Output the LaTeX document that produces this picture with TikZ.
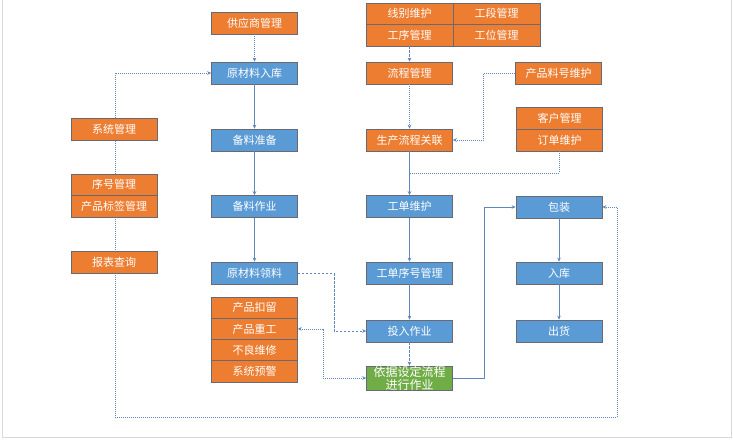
\documentclass[tikz,border=0pt]{standalone}
\usepackage{fontspec}
\newfontfamily\cjk{Noto Sans CJK SC}
\usetikzlibrary{arrows.meta,backgrounds}
\definecolor{orgf}{RGB}{237,125,49}
\definecolor{bluf}{RGB}{91,155,213}
\definecolor{grnf}{RGB}{112,173,71}
\definecolor{bordc}{RGB}{105,105,115}
\definecolor{linec}{RGB}{95,135,190}
\definecolor{framec}{RGB}{215,215,220}
\tikzset{
  box/.style={draw=bordc,line width=0.7pt,minimum width=86pt,minimum height=22pt,inner sep=0pt,
    text=white,font=\cjk\fontsize{11}{12}\selectfont},
  obox/.style={box,fill=orgf},
  bbox/.style={box,fill=bluf},
  gbox/.style={box,fill=grnf,align=center,font=\cjk\fontsize{12}{13}\selectfont},
  cellbox/.style={obox,minimum width=87pt,minimum height=21.5pt},
  stbox/.style={obox,minimum height=21.25pt},
  conn/.style={draw=linec,line width=0.6pt,-{Stealth[length=4pt,width=3.6pt]}},
  dotl/.style={dash pattern=on 1pt off 1pt},
  dashl/.style={dash pattern=on 2.5pt off 1.5pt},
}
\begin{document}
\begin{tikzpicture}[x=1pt,y=-1pt]
\useasboundingbox (0,0) rectangle (733,442);
\draw[framec,line width=0.8pt] (2,0) -- (2,437) -- (731.5,437) -- (731.5,0);
% left column
\node[obox] (sup) at (254.5,23) {供应商管理};
\node[bbox] (rk) at (254.5,73) {原材料入库};
\node[bbox] (bzb) at (254.5,140) {备料准备};
\node[bbox] (bzy) at (254.5,206.5) {备料作业};
\node[bbox] (ll) at (254.5,273) {原材料领料};
\node[stbox] (kl) at (254.5,307.6) {产品扣留};
\node[stbox] (cg) at (254.5,328.9) {产品重工};
\node[stbox] (bl) at (254.5,350.1) {不良维修};
\node[stbox] (yj) at (254.5,371.4) {系统预警};
% far left
\node[obox] (xt) at (114,129) {系统管理};
\node[obox,minimum height=21pt] (xh) at (114,184.5) {序号管理};
\node[obox,minimum height=22pt] (bq) at (114,206) {产品标签管理};
\node[obox] (bb) at (114,262.3) {报表查询};
% middle column
\node[cellbox] (xb) at (409.5,13.75) {线别维护};
\node[cellbox] (gdg) at (496.5,13.75) {工段管理};
\node[cellbox] (gxg) at (409.5,35.25) {工序管理};
\node[cellbox] (gwg) at (496.5,35.25) {工位管理};
\node[obox] (lc) at (409.5,73) {流程管理};
\node[obox] (sc) at (409.5,140) {生产流程关联};
\node[bbox] (gd) at (409.5,206.5) {工单维护};
\node[bbox] (gx) at (409.5,273) {工单序号管理};
\node[bbox] (tr) at (409.5,331) {投入作业};
\node[gbox] (gr) at (409.5,378) {依据设定流程\\进行作业};
% right column
\node[obox] (pl) at (558.5,73) {产品料号维护};
\node[obox] (kh) at (559.5,118) {客户管理};
\node[obox] (dd) at (559.5,140) {订单维护};
\node[bbox] (bz) at (559,207) {包装};
\node[bbox] (rk2) at (559,273) {入库};
\node[bbox] (ch) at (559,331) {出货};
% coordinates
\coordinate (lb) at (115,417);
\coordinate (rb) at (617,417);
\coordinate (jn) at (409.5,173);
% big loop behind boxes
\begin{scope}[on background layer]
\draw[conn,dotl,{Stealth[length=4pt,width=3.6pt]}-{Stealth[length=4pt,width=3.6pt]}] (rk.west) -| (lb) -- (rb) |- (bz.east);
\end{scope}
% connectors
\draw[conn,dotl] (sup) -- (rk);
\draw[conn] (rk) -- (bzb);
\draw[conn] (bzb) -- (bzy);
\draw[conn] (bzy) -- (ll);
\draw[conn,dashl] (ll.east) -- ++(36,0) |- (tr.west);
\draw[conn,dashl] (gxg) -- (lc);
\draw[conn,dotl] (lc) -- (sc);
\draw[conn,dotl] (pl.west) -- ++(-31.5,0) |- (sc.east);
\draw[conn] (sc) -- (gd);
\draw[draw=linec,line width=0.6pt,dotl] (dd.south) |- (jn);
\draw[conn] (gd) -- (gx);
\draw[conn] (gx) -- (tr);
\draw[conn,dashl] (tr) -- (gr);
\draw[conn] (gr.east) -- ++(31,0) |- (bz.west);
\draw[conn] (bz) -- (rk2);
\draw[conn] (rk2) -- (ch);
\draw[conn,dotl,{Stealth[length=4pt,width=3.6pt]}-{Stealth[length=4pt,width=3.6pt]}] (cg.east) -- ++(25,0) |- (gr.west);
\end{tikzpicture}
\end{document}
